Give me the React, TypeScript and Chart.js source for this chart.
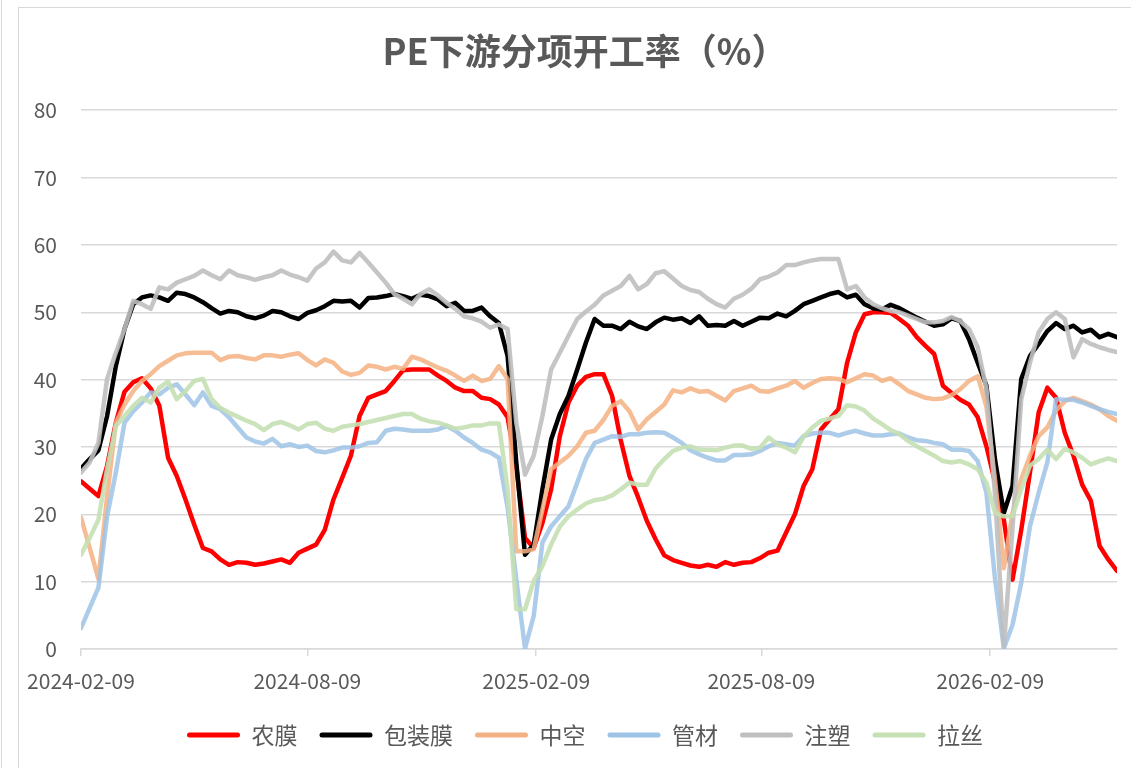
import React, { useEffect, useRef } from "react";
import { Chart, registerables } from "chart.js";

Chart.register(...registerables);

// ---- data ----
const WEEK_COUNT = 120;
const weekDays = Array.from({ length: WEEK_COUNT }, (_, i) => i * 7); // weekly dates, days since 2024-02-09
const tickDays = [0, 182, 366, 547, 731];
const tickLabels = ["2024-02-09", "2024-08-09", "2025-02-09", "2025-08-09", "2026-02-09"];
const seriesNames = ["农膜", "包装膜", "中空", "管材", "注塑", "拉丝"];

const agriFilm = [
  24.9, 23.8, 22.7, 27.2, 33.6, 38.2, 39.6, 40.2, 38.7, 36.1, 28.4, 25.7, 22.2, 18.5, 15.0, 14.5, 13.3, 12.5, 12.9, 12.8,
  12.5, 12.7, 13.0, 13.3, 12.8, 14.3, 14.9, 15.5, 17.7, 22.2, 25.4, 28.7, 34.6, 37.3, 37.8, 38.3, 39.8, 41.4, 41.5, 41.5,
  41.5, 40.6, 39.8, 38.8, 38.3, 38.3, 37.3, 37.1, 36.3, 34.4, 27.0, 16.5, 15.0, 18.7, 23.7, 31.6, 36.6, 39.1, 40.4, 40.8,
  40.8, 37.6, 31.0, 25.7, 22.5, 19.0, 16.3, 13.9, 13.2, 12.8, 12.4, 12.2, 12.5, 12.2, 12.9, 12.5, 12.8, 12.9, 13.5, 14.3,
  14.6, 17.3, 20.0, 24.2, 26.7, 32.6, 34.1, 35.6, 42.5, 47.0, 49.7, 50.0, 50.0, 49.9, 49.0, 48.0, 46.3, 45.0, 43.8, 39.1,
  38.0, 37.0, 36.3, 34.4, 30.1, 24.7, 19.2, 10.3, 17.7, 26.2, 35.1, 38.8, 37.3, 32.1, 28.7, 24.4, 22.0, 15.3, 13.3, 11.6,
];
const packFilm = [
  26.8, 28.2, 29.5, 34.6, 42.0, 47.5, 51.2, 52.2, 52.5, 52.2, 51.7, 52.9, 52.7, 52.2, 51.5, 50.6, 49.8, 50.2, 50.0, 49.4,
  49.1, 49.5, 50.2, 50.0, 49.4, 49.0, 49.9, 50.3, 50.9, 51.7, 51.6, 51.7, 50.7, 52.1, 52.2, 52.4, 52.7, 52.4, 52.0, 52.6,
  52.4, 51.9, 50.9, 51.4, 50.2, 50.2, 50.7, 49.4, 48.4, 43.5, 27.7, 14.0, 15.5, 23.7, 31.1, 34.9, 37.6, 41.5, 45.5, 49.0,
  48.0, 48.0, 47.5, 48.6, 47.9, 47.5, 48.5, 49.2, 48.9, 49.1, 48.4, 49.4, 48.0, 48.1, 48.0, 48.7, 48.0, 48.6, 49.2, 49.1,
  49.8, 49.4, 50.2, 51.2, 51.7, 52.2, 52.7, 53.0, 52.2, 52.6, 51.2, 50.6, 50.4, 51.1, 50.6, 49.9, 49.2, 48.6, 48.0, 48.2,
  49.1, 48.7, 46.0, 42.5, 39.1, 28.0, 20.2, 24.2, 40.1, 43.5, 45.3, 47.2, 48.4, 47.5, 48.0, 47.0, 47.4, 46.3, 46.8, 46.3,
];
const hollow = [
  19.5, 15.0, 10.4, 22.7, 33.6, 36.3, 38.3, 39.8, 40.8, 42.0, 42.8, 43.6, 43.9, 44.0, 44.0, 44.0, 42.9, 43.4, 43.5, 43.2,
  43.0, 43.6, 43.6, 43.4, 43.7, 43.9, 42.9, 42.1, 43.0, 42.5, 41.2, 40.7, 41.0, 42.1, 41.9, 41.5, 41.9, 41.6, 43.4, 43.0,
  42.4, 41.8, 41.3, 40.6, 39.8, 40.6, 39.8, 40.1, 42.0, 40.1, 14.5, 14.5, 14.8, 20.7, 26.7, 27.7, 28.7, 30.1, 32.1, 32.4,
  34.0, 36.1, 36.8, 35.3, 32.6, 34.1, 35.2, 36.3, 38.4, 38.1, 38.7, 38.2, 38.3, 37.6, 36.9, 38.3, 38.7, 39.1, 38.3, 38.2,
  38.7, 39.1, 39.8, 38.8, 39.5, 40.1, 40.2, 40.1, 39.6, 40.2, 40.8, 40.6, 39.8, 40.2, 39.3, 38.3, 37.8, 37.3, 37.1, 37.2,
  37.7, 38.6, 39.8, 40.5, 36.0, 25.0, 12.0, 20.2, 25.2, 28.7, 31.6, 32.9, 35.4, 36.8, 37.3, 36.8, 36.3, 35.6, 34.6, 33.9,
];
const pipe = [
  3.1, 6.1, 9.1, 19.7, 26.2, 33.6, 35.3, 36.6, 38.1, 37.8, 38.8, 39.3, 37.8, 36.2, 38.1, 36.1, 35.6, 34.4, 32.9, 31.4,
  30.8, 30.5, 31.2, 30.1, 30.4, 30.0, 30.2, 29.4, 29.2, 29.5, 29.9, 29.9, 30.1, 30.6, 30.7, 32.4, 32.7, 32.6, 32.4, 32.4,
  32.4, 32.6, 33.1, 32.4, 31.4, 30.6, 29.6, 29.2, 28.4, 21.0, 10.3, 0.1, 4.9, 15.8, 18.2, 19.7, 21.2, 24.7, 28.2, 30.6,
  31.1, 31.6, 31.5, 31.9, 31.9, 32.1, 32.2, 32.1, 31.4, 30.6, 29.5, 28.9, 28.4, 28.0, 28.0, 28.8, 28.8, 28.9, 29.4, 30.1,
  30.6, 30.4, 30.2, 31.6, 32.0, 32.1, 32.1, 31.7, 32.1, 32.4, 32.0, 31.7, 31.7, 31.9, 32.0, 31.4, 31.0, 30.9, 30.6, 30.4,
  29.6, 29.6, 29.4, 27.9, 23.2, 10.3, 0.1, 3.6, 9.8, 18.2, 23.2, 27.7, 37.1, 37.0, 37.0, 36.6, 36.1, 35.6, 35.2, 34.9,
];
const injection = [
  26.2, 27.7, 30.6, 40.1, 44.0, 47.5, 51.7, 51.2, 50.5, 53.7, 53.4, 54.4, 54.9, 55.4, 56.2, 55.5, 54.9, 56.2, 55.5, 55.2,
  54.8, 55.2, 55.5, 56.2, 55.6, 55.2, 54.7, 56.5, 57.4, 59.0, 57.7, 57.4, 58.8, 57.4, 55.9, 54.4, 52.7, 52.0, 51.2, 52.7,
  53.4, 52.5, 51.4, 50.5, 49.4, 49.1, 48.6, 47.7, 48.2, 47.5, 33.6, 25.9, 28.7, 34.6, 41.5, 44.0, 46.5, 49.0, 50.1, 51.1,
  52.5, 53.2, 53.9, 55.4, 53.4, 54.2, 55.8, 56.1, 55.0, 53.9, 53.3, 53.0, 52.0, 51.2, 50.7, 52.0, 52.6, 53.5, 54.9, 55.3,
  55.9, 57.0, 57.0, 57.4, 57.7, 57.9, 57.9, 57.9, 53.4, 53.9, 52.2, 51.2, 50.6, 50.2, 50.0, 49.5, 49.0, 48.5, 48.5, 48.7,
  49.3, 48.7, 47.5, 44.8, 38.6, 22.7, 0.4, 18.0, 37.1, 42.5, 47.0, 49.0, 50.0, 49.0, 43.3, 46.0, 45.3, 44.8, 44.4, 44.1,
];
const drawing = [
  14.0, 16.5, 19.2, 26.7, 33.1, 34.6, 36.1, 37.3, 36.6, 38.8, 39.7, 37.1, 38.3, 39.8, 40.1, 37.1, 35.8, 35.1, 34.5, 33.9,
  33.4, 32.5, 33.4, 33.7, 33.2, 32.6, 33.4, 33.6, 32.7, 32.4, 33.0, 33.2, 33.4, 33.7, 34.0, 34.3, 34.6, 34.9, 34.9, 34.2,
  33.8, 33.6, 33.2, 32.7, 32.9, 33.2, 33.2, 33.5, 33.5, 23.7, 5.9, 5.9, 10.1, 12.3, 15.5, 18.2, 19.7, 20.7, 21.6, 22.1,
  22.3, 22.8, 23.7, 24.7, 24.4, 24.4, 26.8, 28.2, 29.4, 29.9, 30.1, 29.6, 29.6, 29.5, 29.9, 30.2, 30.2, 29.7, 29.9, 31.4,
  30.4, 29.9, 29.2, 31.5, 32.9, 33.9, 34.2, 34.6, 36.2, 36.0, 35.4, 34.2, 33.4, 32.5, 31.9, 30.9, 30.1, 29.4, 28.7, 27.9,
  27.7, 27.9, 27.4, 26.7, 24.7, 20.2, 19.7, 19.7, 23.7, 27.2, 28.2, 29.6, 28.2, 29.7, 29.2, 28.4, 27.4, 27.9, 28.3, 27.9,
];
const seriesValues = [agriFilm, packFilm, hollow, pipe, injection, drawing];
const lineColors = [
  "#FF0000",
  "#000000",
  "rgba(244,177,131,0.85)",
  "rgba(157,195,230,0.85)",
  "rgba(191,191,191,0.9)",
  "rgba(197,224,180,0.9)",
];
const legendColors = ["#FF0000", "#000000", "#F4B183", "#9DC3E6", "#BFBFBF", "#C5E0B4"];

const FONT = "'Noto Sans CJK SC', 'Noto Sans', sans-serif";
const TEXT = "#595959";
const GRID = "#D9D9D9";

export default function App() {
  const ref = useRef<HTMLCanvasElement | null>(null);

  useEffect(() => {
    if (!ref.current) return;
    const chart = new Chart(ref.current, {
      type: "line",
      data: {
        datasets: seriesNames.map((name, s) => ({
          label: name,
          data: seriesValues[s].map((v, i) => ({ x: weekDays[i], y: v })),
          borderColor: lineColors[s],
          backgroundColor: lineColors[s],
          borderWidth: 4.5,
          pointRadius: 0,
          tension: 0,
          borderJoinStyle: "round" as const,
          borderCapStyle: "round" as const,
          order: seriesNames.length - s,
          yAxisID: "y",
        })),
      },
      options: {
        animation: false,
        responsive: false,
        devicePixelRatio: 1,
        layout: { padding: { top: 0, left: 0, right: 0, bottom: 11.5 } },
        plugins: {
          tooltip: { enabled: false },
          title: {
            display: true,
            text: "PE下游分项开工率（%）",
            color: TEXT,
            font: { family: FONT, size: 36, weight: "bold", lineHeight: 1.2 },
            padding: { top: 22, bottom: 37 },
          },
          legend: {
            position: "bottom",
            labels: {
              color: TEXT,
              font: { family: FONT, size: 23 },
              boxWidth: 53,
              boxHeight: 5,
              padding: 22,
              generateLabels: (c: any) =>
                c.data.datasets.map((ds: any, i: number) => ({
                  text: ds.label,
                  fillStyle: legendColors[i],
                  strokeStyle: legendColors[i],
                  lineWidth: 0,
                  hidden: false,
                  datasetIndex: i,
                  borderRadius: 2.5,
                  fontColor: TEXT,
                })),
            },
          },
        },
        scales: {
          x: {
            type: "linear",
            min: 0,
            max: weekDays[weekDays.length - 1],
            afterBuildTicks: (s: any) => {
              s.ticks = tickDays.map((v) => ({ value: v }));
            },
            afterFit: (s: any) => {
              s.height = 52.5;
            },
            ticks: {
              autoSkip: false,
              maxRotation: 0,
              color: TEXT,
              font: { family: FONT, size: 21, lineHeight: 2.34 },
              padding: 0,
              callback: (_v: any, idx: number) => tickLabels[idx],
            },
            grid: {
              drawOnChartArea: false,
              drawTicks: true,
              tickLength: 7,
              color: GRID,
              lineWidth: 1.5,
            },
            border: { display: true, color: GRID, width: 1.5 },
          },
          y: {
            position: "left",
            min: 0,
            max: 80,
            afterFit: (s: any) => {
              s.width = 62;
            },
            ticks: {
              stepSize: 10,
              color: TEXT,
              font: { family: FONT, size: 21 },
              padding: 24,
            },
            grid: { color: GRID, lineWidth: 1.5, drawTicks: false },
            border: { display: false },
          },
          spacer: {
            position: "right",
            min: 0,
            max: 80,
            afterFit: (s: any) => {
              s.width = 34;
            },
            ticks: { display: false },
            grid: { display: false, drawTicks: false },
            border: { display: false },
          },
        },
      },
    } as any);
    return () => chart.destroy();
  }, []);

  return (
    <div style={{ position: "fixed", inset: 0, overflow: "hidden", background: "#fff" }}>
      <div style={{ position: "absolute", left: 1, top: 0, width: 1, height: 768, background: GRID }} />
      <div
        style={{
          position: "absolute",
          left: 18,
          top: 7,
          width: 1200,
          height: 800,
          border: `1px solid ${GRID}`,
          boxSizing: "border-box",
          background: "#fff",
        }}
      >
        <canvas ref={ref} width={1132} height={760} style={{ display: "block" }} />
      </div>
    </div>
  );
}
